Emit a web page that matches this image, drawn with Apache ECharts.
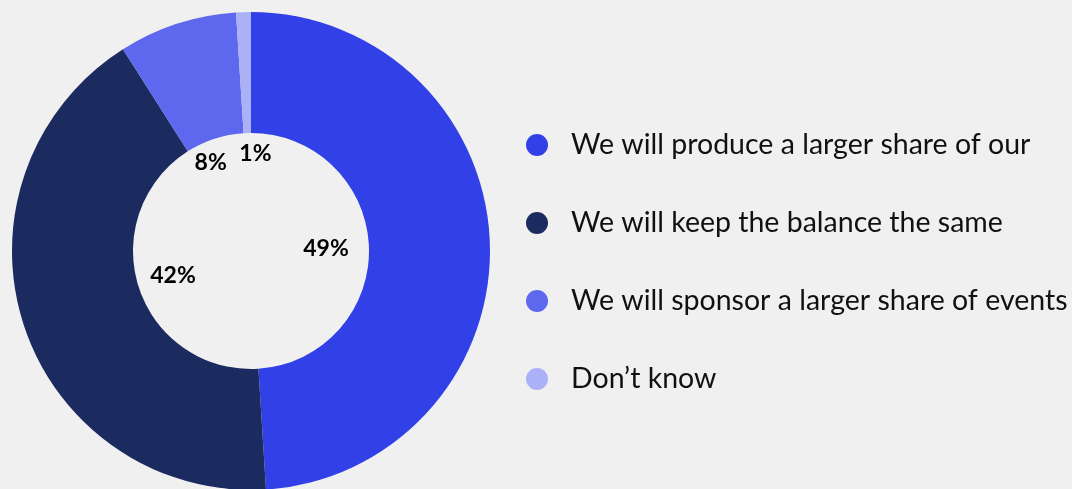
<!DOCTYPE html>
<html>
<head>
<meta charset="utf-8">
<script src="https://cdn.jsdelivr.net/npm/echarts@6/dist/echarts.min.js"></script>
<style>
  html, body { margin: 0; padding: 0; background: #f0f0f0; }
  #chart { width: 1072px; height: 489px; }
</style>
</head>
<body>
<div id="chart"></div>
<script>
// Survey answers and their shares (%)
const categories = [
  'We will produce a larger share of our',
  'We will keep the balance the same',
  'We will sponsor a larger share of events',
  'Don\u2019t know'
];
const shares = [49, 42, 8, 1];
const colors = ['#3141e7', '#1b2a5f', '#5d68ee', '#aab1f6'];
// nudges for the small-slice labels so they don't collide near the top
const labelOffsets = [[-7, 0], [0, -1], [-15, -10], [7, -15]];

const font = 'Lato, "Noto Sans", sans-serif';

const chart = echarts.init(document.getElementById('chart'));
chart.setOption({
  backgroundColor: '#f0f0f0',
  animation: false,
  legend: {
    orient: 'vertical',
    left: 521,
    top: 125,
    icon: 'circle',
    itemWidth: 22,
    itemHeight: 22,
    itemGap: 48,
    data: categories,
    textStyle: {
      fontFamily: font,
      fontSize: 28.5,
      color: '#111111',
      lineHeight: 30,
      padding: [0, 0, 0, 18]
    }
  },
  series: [
    {
      type: 'pie',
      center: [251, 251],
      radius: [118, 239],
      startAngle: 90,
      clockwise: true,
      silent: true,
      label: { show: false },
      labelLine: { show: false },
      data: categories.map((name, i) => ({
        name, value: shares[i], itemStyle: { color: colors[i] }
      }))
    },
    {
      // invisible ring inside the hole that carries the percentage labels
      type: 'pie',
      center: [251, 251],
      radius: [40, 118],
      startAngle: 90,
      clockwise: true,
      silent: true,
      itemStyle: { color: 'rgba(0,0,0,0)' },
      labelLine: { show: false },
      label: {
        show: true,
        position: 'inside',
        fontFamily: font,
        fontWeight: 'bold',
        fontSize: 23,
        color: '#000000',
        formatter: p => p.value + '%'
      },
      data: categories.map((name, i) => ({
        name, value: shares[i],
        label: { offset: labelOffsets[i] }
      }))
    }
  ]
});
</script>
</body>
</html>
